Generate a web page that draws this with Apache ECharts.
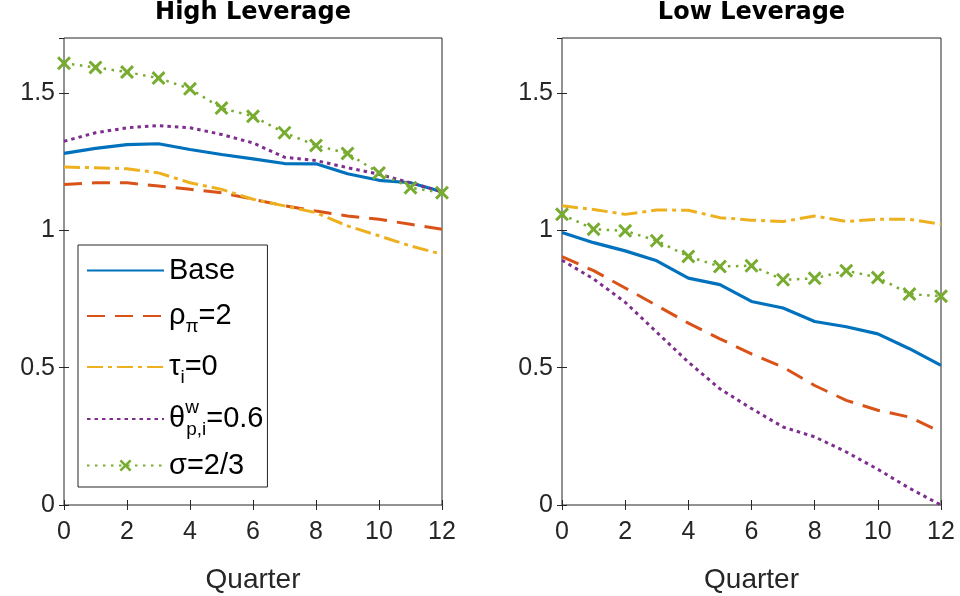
<!DOCTYPE html>
<html><head><meta charset="utf-8">
<script src="https://cdn.jsdelivr.net/npm/echarts@6/dist/echarts.min.js"></script>
<style>html,body{margin:0;padding:0;background:#fff}#c{width:960px;height:596px}</style>
</head><body><div id="c"></div>
<script>
// ---- data ----
const quarters = [0,1,2,3,4,5,6,7,8,9,10,11,12];
const xTicks = [0,2,4,6,8,10,12];
const yTicks = [0,0.5,1,1.5];
const panelTitles = ['High Leverage','Low Leverage'];
const seriesNames = ['Base','rho','tau','theta','sigma'];

const hiBase  = [1.280,1.298,1.312,1.315,1.294,1.276,1.260,1.243,1.242,1.206,1.182,1.173,1.140];
const hiRho   = [1.167,1.173,1.173,1.161,1.149,1.137,1.113,1.089,1.070,1.052,1.040,1.022,1.004];
const hiTau   = [1.230,1.228,1.224,1.209,1.173,1.149,1.113,1.089,1.064,1.016,0.980,0.943,0.913];
const hiTheta = [1.324,1.355,1.373,1.381,1.373,1.349,1.318,1.266,1.254,1.228,1.204,1.173,1.140];
const hiSigma = [1.608,1.593,1.576,1.554,1.515,1.445,1.415,1.355,1.309,1.280,1.209,1.155,1.137];

const loBase  = [0.992,0.955,0.925,0.889,0.826,0.802,0.741,0.717,0.668,0.649,0.623,0.569,0.508];
const loRho   = [0.904,0.853,0.790,0.726,0.662,0.605,0.550,0.502,0.435,0.381,0.345,0.320,0.266];
const loTau   = [1.089,1.076,1.058,1.074,1.073,1.046,1.037,1.032,1.052,1.032,1.040,1.040,1.022];
const loTheta = [0.891,0.823,0.738,0.629,0.520,0.423,0.351,0.284,0.248,0.193,0.130,0.061,0.000];
const loSigma = [1.058,1.004,0.998,0.962,0.905,0.868,0.871,0.820,0.825,0.853,0.828,0.768,0.760];

// ---- styles ----
const FONT = 'Liberation Sans';
const TFONT = 'DejaVu Sans';
const AX = '#262626';
const colors = {Base:'#0072BD', rho:'#D95319', tau:'#EDB120', theta:'#7E2F8E', sigma:'#77AC30'};
const lineStyles = {
  Base:  {width:3.2, type:'solid'},
  rho:   {width:3, type:[18,10], cap:'butt'},
  tau:   {width:3, type:[16,5,4,5], cap:'butt'},
  theta: {width:3, type:[3.5,4], cap:'butt'},
  sigma: {width:2.5, type:[2.5,5.5], cap:'butt'}
};
const xMark = 'path://M1.5,0 L5,3.5 L8.5,0 L10,1.5 L6.5,5 L10,8.5 L8.5,10 L5,6.5 L1.5,10 L0,8.5 L3.5,5 L0,1.5 Z';

const grids = [
  {left:64, top:38, width:378, height:467},
  {left:562, top:38, width:379, height:467}
];
const panels = [
  {Base:hiBase, rho:hiRho, tau:hiTau, theta:hiTheta, sigma:hiSigma},
  {Base:loBase, rho:loRho, tau:loTau, theta:loTheta, sigma:loSigma}
];

const tickCfg = {show:true, inside:true, length:5, lineStyle:{color:AX}};
const xAxes = [], yAxes = [], series = [];
grids.forEach((g, gi) => {
  xAxes.push({
    type:'value', gridIndex:gi, min:0, max:12, interval:2, position:'bottom',
    name:'Quarter', nameLocation:'middle', nameGap:61,
    nameTextStyle:{fontFamily:FONT, fontSize:28, color:AX},
    axisLine:{show:false}, splitLine:{show:false}, axisTick:tickCfg,
    axisLabel:{fontFamily:FONT, fontSize:25, color:AX, margin:15,
      formatter: v => xTicks.includes(v) ? String(v) : ''}
  });
  xAxes.push({
    type:'value', gridIndex:gi, min:0, max:12, interval:2, position:'top',
    axisLine:{show:false}, splitLine:{show:false}, axisLabel:{show:false}, axisTick:tickCfg
  });
  yAxes.push({
    type:'value', gridIndex:gi, min:0, max:1.7, interval:0.5, position:'left',
    axisLine:{show:false}, splitLine:{show:false}, axisTick:tickCfg,
    axisLabel:{fontFamily:FONT, fontSize:25, color:AX, margin:9, showMaxLabel:false,
      formatter: v => yTicks.includes(v) ? String(v) : ''}
  });
  yAxes.push({
    type:'value', gridIndex:gi, min:0, max:1.7, interval:0.5, position:'right',
    axisLine:{show:false}, splitLine:{show:false}, axisLabel:{show:false}, axisTick:tickCfg
  });
  seriesNames.forEach(n => {
    const vals = panels[gi][n];
    series.push({
      name:n, type:'line', xAxisIndex:gi*2, yAxisIndex:gi*2,
      data: quarters.map((q,i) => [q, vals[i]]),
      symbol: n === 'sigma' ? xMark : 'none',
      symbolSize: 14, showSymbol: n === 'sigma',
      itemStyle:{color:colors[n]},
      lineStyle:Object.assign({color:colors[n]}, lineStyles[n]),
      animation:false, silent:true
    });
  });
});

const legendLabels = {
  Base:'{a|Base}',
  rho:'{b|ρ}{sub|π}{b|=2}',
  tau:'{c|τ}{sub|i}{c|=0}',
  theta:'{d|θ}{sup|w}{sub|p,i}{d|=0.6}',
  sigma:'{e|σ=2/3}'
};
const LF = 29;
const mainTxt = lh => ({fontFamily:FONT, fontSize:LF, lineHeight:lh, color:'#000'});

const option = {
  backgroundColor:'#fff',
  animation:false,
  grid: grids.map(g => Object.assign({show:true, borderColor:AX, borderWidth:1,
    backgroundColor:'transparent', containLabel:false, outerBoundsMode:'none'}, g)),
  xAxis:xAxes, yAxis:yAxes, series:series,
  legend:{
    orient:'vertical', left:78, top:245, selectedMode:false,
    data: seriesNames.map(n => n === 'sigma' ? {name:n} : {name:n, itemStyle:{opacity:0}}),
    itemWidth:77, itemHeight:15, itemGap:11,
    padding:[11,4,7,8],
    backgroundColor:'#fff', borderColor:AX, borderWidth:1,
    formatter: n => legendLabels[n],
    textStyle:{
      fontFamily:FONT, fontSize:LF, color:'#000',
      rich:{
        a:mainTxt(22), b:mainTxt(36), c:mainTxt(52), d:mainTxt(42), e:mainTxt(40),
        sub:{fontFamily:FONT, fontSize:19, lineHeight:19, padding:[21,0,0,0], color:'#000'},
        sup:{fontFamily:FONT, fontSize:19, lineHeight:19, padding:[0,0,23,0], width:1, color:'#000'}
      }
    }
  },
  graphic: panelTitles.map((t, i) => ({
    type:'text', x: grids[i].left + grids[i].width/2, y: 13,
    style:{text:t, fontFamily:TFONT, fontWeight:'bold', fontSize:24, fill:'#000',
      textAlign:'center', textVerticalAlign:'middle'}
  }))
};

const chart = echarts.init(document.getElementById('c'), null, {renderer:'canvas'});
chart.setOption(option);
</script></body></html>
